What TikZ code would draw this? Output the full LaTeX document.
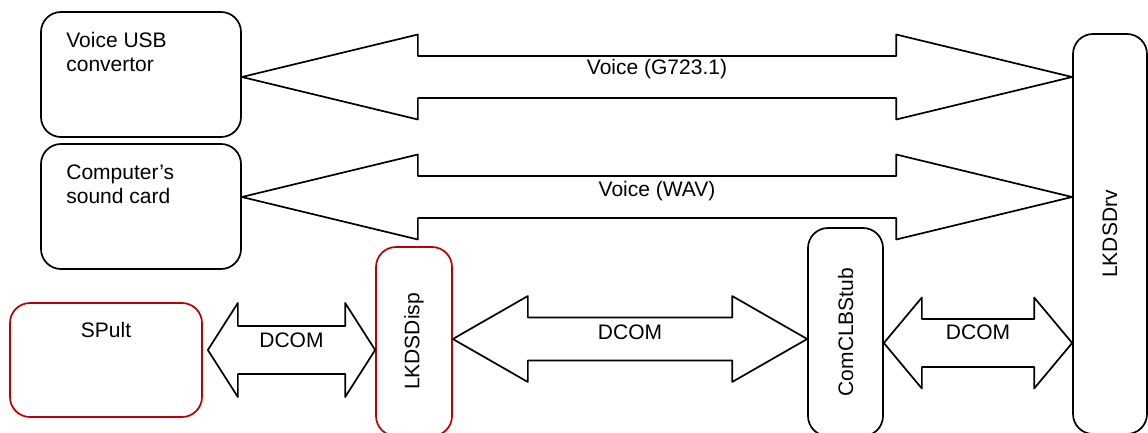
\documentclass[tikz,border=0pt]{standalone}
\usepackage{fontspec}
\setmainfont{Liberation Sans}
\usetikzlibrary{calc,positioning}
\definecolor{RedClr}{rgb}{0.75,0,0}

\tikzset{
  unit/.style={rounded corners=20pt, line width=1.7pt, draw=black, inner sep=0pt},
  redunit/.style={unit, draw=RedClr},
  unittext/.style={inner sep=0pt, align=left},
  fatarrow/.style={line width=1.7pt, line join=round},
  arrowlabel/.style={inner sep=0pt},
}

% fat double arrow: from, to, head length, head half width, shaft half width, label name, label shift, label
\newcommand{\FatArrow}[8]{%
  \draw[fatarrow] let \p1=(#1), \p2=(#2) in
    (\x1,\y1) -- (\x1+#3pt,\y1+#4pt) -- (\x1+#3pt,\y1+#5pt) -- (\x2-#3pt,\y2+#5pt)
    -- (\x2-#3pt,\y2+#4pt) -- (\x2,\y2) -- (\x2-#3pt,\y2-#4pt) -- (\x2-#3pt,\y2-#5pt)
    -- (\x1+#3pt,\y1-#5pt) -- (\x1+#3pt,\y1-#4pt) -- cycle;
  \node[arrowlabel] (#6) at ($(#1)!0.5!(#2)+(0,#7)$) {#8};}

\begin{document}
\begin{tikzpicture}[x=1pt,y=1pt,font=\fontsize{21}{24}\selectfont]
\clip (0,0) rectangle (1148,432);

% blocks
\node[unit, minimum width=200pt, minimum height=125pt] (usb) at (141,357.5) {};
\node[unit, minimum width=200pt, minimum height=125pt] (snd) at (141,225.5) {};
\node[redunit, minimum width=192pt, minimum height=114pt] (spult) at (106,72) {};
\node[redunit, minimum width=76pt, minimum height=189pt] (disp) at (414,90.5) {\rotatebox{90}{LKDSDisp}};
\node[unit, minimum width=75pt, minimum height=208pt] (comclb) at (845.5,100) {\rotatebox{90}{ComCLBStub}};
\node[unit, minimum width=74pt, minimum height=400pt] (drv) at (1110,198) {\rotatebox{90}{LKDSDrv}};

\node[unittext, anchor=north west] (usbtext) at ([xshift=26pt,yshift=-21pt]usb.north west) {Voice USB\\convertor};
\node[unittext, anchor=north west] (sndtext) at ([xshift=26pt,yshift=-21pt]snd.north west) {Computer’s\\sound card};
\node[unittext, anchor=north] (spulttext) at ([yshift=-20pt]spult.north) {SPult};

% arrow ends
\coordinate (g723l) at ([yshift=-2.5pt]usb.east);
\coordinate (g723r) at (drv.west |- g723l);
\coordinate (wavl) at ([yshift=9.5pt]snd.east);
\coordinate (wavr) at (drv.west |- wavl);
\coordinate (d1l) at ([xshift=5pt,yshift=10pt]spult.east);
\coordinate (d1r) at (disp.west |- d1l);
\coordinate (d2l) at ([yshift=2.5pt]disp.east);
\coordinate (d2r) at (comclb.west |- d2l);
\coordinate (d3l) at ([yshift=-11pt]comclb.east);
\coordinate (d3r) at (drv.west |- d3l);

\FatArrow{g723l}{g723r}{176}{42.5}{21}{g723}{8}{Voice (G723.1)}
\FatArrow{wavl}{wavr}{176}{42.5}{21}{wav}{6}{Voice (WAV)}
\FatArrow{d1l}{d1r}{30}{47}{24}{dcoma}{10}{DCOM}
\FatArrow{d2l}{d2r}{75}{43}{21.5}{dcomb}{7}{DCOM}
\FatArrow{d3l}{d3r}{38}{45.5}{24}{dcomc}{11}{DCOM}

\end{tikzpicture}
\end{document}
